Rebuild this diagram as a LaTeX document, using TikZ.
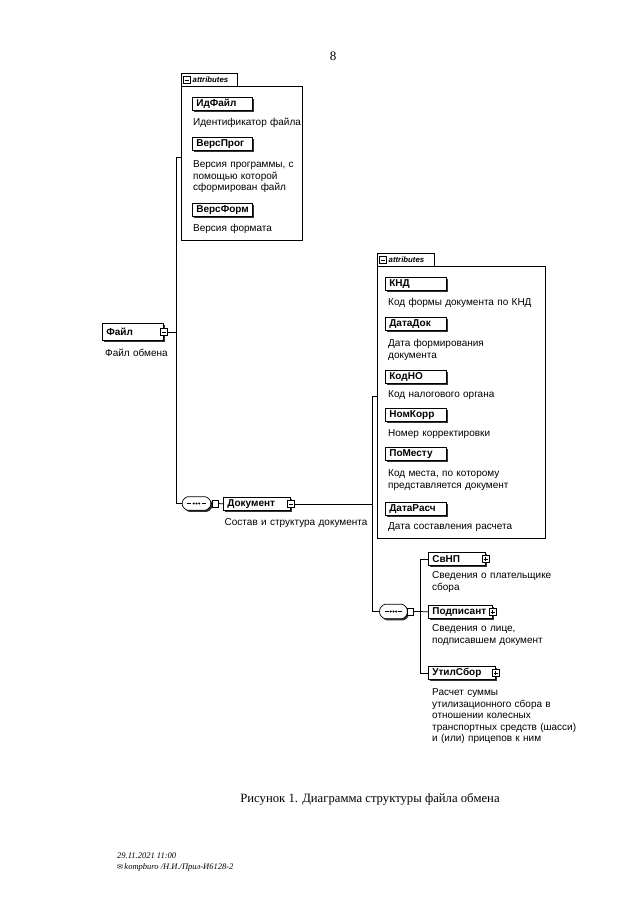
\documentclass[tikz,border=0pt]{standalone}
\usepackage{fontspec}
\setmainfont{Liberation Serif}
\newfontfamily\arial{Liberation Sans}
\newfontfamily\dejavu{DejaVu Sans}
\usetikzlibrary{shadows,calc}
\tikzset{
  shd/.style={drop shadow={shadow xshift=1.6pt, shadow yshift=-1.6pt, fill=black!80, opacity=1}},
  nm/.style={draw, line width=0.7pt, fill=white, shd, anchor=north west, inner xsep=4pt, inner ysep=0pt,
    minimum height=13pt, text width=#1, align=left, font=\arial\bfseries\fontsize{10}{11}\selectfont},
  nm/.default=52pt,
  desc/.style={anchor=base west, text width=200pt, align=left, inner sep=0pt,
    font=\arial\fontsize{10}{11.5}\selectfont},
  ico/.style={draw, fill=white, line width=0.6pt, minimum size=7.5pt, inner sep=0pt},
  minusico/.style={ico, path picture={\draw[line width=0.6pt] ([xshift=1.6pt]path picture bounding box.west) -- ([xshift=-1.6pt]path picture bounding box.east);}},
  plusico/.style={ico, path picture={\draw[line width=0.6pt] ([xshift=1.6pt]path picture bounding box.west) -- ([xshift=-1.6pt]path picture bounding box.east);
      \draw[line width=0.6pt] ([yshift=-1.6pt]path picture bounding box.north) -- ([yshift=1.6pt]path picture bounding box.south);}},
  attrbody/.style={draw, line width=0.7pt, fill=white, anchor=north west, inner sep=0pt},
  tabst/.style={draw, line width=0.7pt, fill=white, anchor=north west, inner sep=0pt, minimum width=56pt, minimum height=13pt},
  tabtxt/.style={anchor=west, inner sep=0pt, font=\arial\bfseries\itshape\fontsize{7.8}{9}\selectfont},
  seqbox/.style={inner sep=0pt, minimum width=28pt, minimum height=13pt},
  seqcon/.style={draw, fill=white, line width=0.7pt, inner sep=0pt, minimum width=6pt, minimum height=7pt},
  conn/.style={line width=0.7pt},
}
\newcommand{\seqshape}[1]{%
  \draw[line width=0.7pt, fill=white, shd, rounded corners=1.2pt]
    ($(#1.north west)+(4,0)$) -- ($(#1.north east)+(-4,0)$) -- ($(#1.north east)+(0,4)$) --
    ($(#1.south east)+(0,-4)$) -- ($(#1.south east)+(-4,0)$) -- ($(#1.south west)+(4,0)$) --
    ($(#1.south west)+(0,-4)$) -- ($(#1.north west)+(0,4)$) -- cycle;
  \draw[line width=0.6pt] ($(#1.west)+(5,0)$) -- ($(#1.west)+(9,0)$);
  \draw[line width=0.6pt] ($(#1.east)+(-5,0)$) -- ($(#1.east)+(-9,0)$);
  \fill ($(#1.center)+(-2.8,0)$) circle (1.1pt) (#1.center) circle (1.1pt) ($(#1.center)+(2.8,0)$) circle (1.1pt);
}
\begin{document}
\begin{tikzpicture}[x=1pt,y=-1pt]
\useasboundingbox (0,0) rectangle (640,905);
\fill[white] (0,0) rectangle (640,905);

\node[font=\fontsize{13}{15}\selectfont, anchor=base, inner sep=0pt] (pg) at (333,60) {8};

% ---------- attributes of Файл
\node[attrbody, minimum width=121pt, minimum height=154pt] (attrA) at (181,86) {};
\node[tabst] (tabA) at (181,73) {};
\node[minusico] (tabAi) at ($(tabA.west)+(6,0)$) {};
\node[tabtxt] (tabAt) at ($(tabA.west)+(11.5,0)$) {attributes};

\node[nm] (idf) at (192,97) {ИдФайл};
\node[desc] (idfd) at (193,125.5) {Идентификатор файла};
\node[nm] (vprog) at (192,137) {ВерсПрог};
\node[desc] (vprogd) at (193,167.5) {Версия программы, с\\помощью которой\\сформирован файл};
\node[nm] (vform) at (192,203) {ВерсФорм};
\node[desc] (vformd) at (193,231.5) {Версия формата};

% ---------- root
\node[nm=53pt, minimum height=17pt] (file) at (102,323) {Файл};
\node[minusico] (fileI) at (file.east) {};
\node[desc] (filed) at (105,356) {Файл обмена};

% ---------- sequence 1 and Документ
\node[seqbox] (seq1) at (196.5,503.5) {};
\seqshape{seq1}
\node[seqcon] (seq1c) at (215,503.5) {};
\node[nm=59pt] (doc) at (223,497) {Документ};
\node[minusico] (docI) at (doc.east) {};
\node[desc] (docd) at (224.5,525.5) {Состав и структура документа};

% ---------- attributes of Документ
\node[attrbody, minimum width=168pt, minimum height=272pt] (attrB) at (377,266) {};
\node[tabst, minimum width=57pt] (tabB) at (377,253) {};
\node[minusico] (tabBi) at ($(tabB.west)+(6,0)$) {};
\node[tabtxt] (tabBt) at ($(tabB.west)+(11.5,0)$) {attributes};

\node[nm=53pt] (knd) at (385,277) {КНД};
\node[desc] (kndd) at (388,305.5) {Код формы документа по КНД};
\node[nm=53pt] (datadok) at (385,317) {ДатаДок};
\node[desc] (datadokd) at (388,346.5) {Дата формирования\\документа};
\node[nm=53pt] (kodno) at (385,370) {КодНО};
\node[desc] (kodnod) at (388,397.5) {Код налогового органа};
\node[nm=53pt] (nomkorr) at (385,408) {НомКорр};
\node[desc] (nomkorrd) at (388,436.5) {Номер корректировки};
\node[nm=53pt] (pomestu) at (385,447) {ПоМесту};
\node[desc] (pomestud) at (388,476.5) {Код места, по которому\\представляется документ};
\node[nm=53pt] (datarasch) at (385,502) {ДатаРасч};
\node[desc] (dataraschd) at (388,529.5) {Дата составления расчета};

% ---------- sequence 2 and children
\node[seqbox, minimum width=27pt, minimum height=14pt] (seq2) at (393.5,611.5) {};
\seqshape{seq2}
\node[seqcon] (seq2c) at (410,611.5) {};

\node[nm=49pt] (svnp) at (428,552) {СвНП};
\node[plusico] (svnpI) at (svnp.east) {};
\node[desc] (svnpd) at (432,578.5) {Сведения о плательщике\\сбора};
\node[nm=56pt] (podp) at (428,605) {Подписант};
\node[plusico] (podpI) at (podp.east) {};
\node[desc] (podpd) at (432,631.5) {Сведения о лице,\\подписавшем документ};
\node[nm=59pt] (util) at (428,666) {УтилСбор};
\node[plusico] (utilI) at (util.east) {};
\node[desc] (utild) at (432,695.5) {Расчет суммы\\утилизационного сбора в\\отношении колесных\\транспортных средств (шасси)\\и (или) прицепов к ним};

% ---------- connectors
\coordinate (aAmid) at ($(tabA.north -| attrA.west)!0.5!(attrA.south west)$);
\coordinate (aBmid) at ($(tabB.north -| attrB.west)!0.5!(attrB.south west)$);
\draw[conn] (fileI.east) -- ++(9,0) coordinate (t1);
\draw[conn] (t1) |- (aAmid);
\draw[conn] (t1) |- (seq1.west);
\draw[conn] (seq1.east) -- (seq1c.west);
\draw[conn] (seq1c.east) -- (doc.west);
\draw[conn] (docI.east) -- ++(78,0) coordinate (t2);
\draw[conn] (aBmid) -- (aBmid -| t2) -- (seq2.west -| t2) -- (seq2.west);
\draw[conn] (seq2.east) -- (seq2c.west);
\draw[conn] (seq2c.east) -- ++(7,0) coordinate (t3);
\draw[conn] (svnp.west) -- (svnp.west -| t3) -- (util.west -| t3) -- (util.west);
\draw[conn] (t3) -- (podp.west);

% ---------- caption and footer
\node[anchor=base, inner sep=0pt, font=\fontsize{12.7}{15}\selectfont] (cap) at (370,802) {Рисунок 1. Диаграмма структуры файла обмена};
\node[anchor=base west, inner sep=0pt, font=\itshape\fontsize{8.5}{10}\selectfont] (foot1) at (117,858) {29.11.2021 11:00};
\node[anchor=base west, inner sep=0pt, font=\itshape\fontsize{8.5}{10}\selectfont] (foot2) at (117,869) {{\dejavu\fontsize{7}{8}\selectfont ✉}\,kompburo /Н.И./Прил-И6128-2};
\end{tikzpicture}
\end{document}
